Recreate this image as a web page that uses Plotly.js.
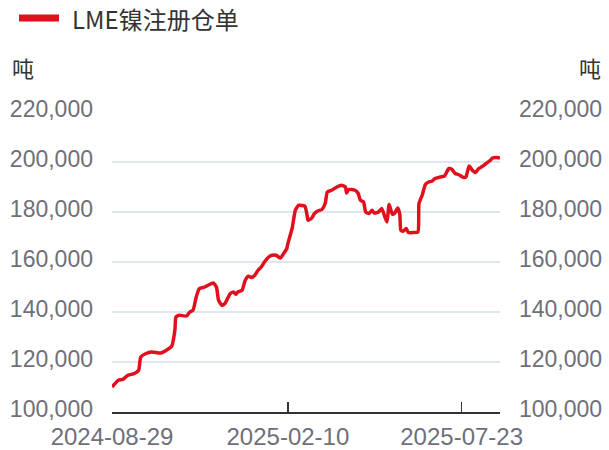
<!DOCTYPE html>
<html>
<head>
<meta charset="utf-8">
<script src="https://cdn.plot.ly/plotly-3.0.1.min.js"></script>
<style>html,body{margin:0;padding:0;background:#fff;}#chart{width:609px;height:450px;}</style>
</head>
<body>
<div id="chart"></div>
<script>
const seriesName = "LME镍注册仓单";
const unitLabel = "吨";
const dates = [
"2024-08-29","2024-09-04","2024-09-08","2024-09-13","2024-09-19","2024-09-23","2024-09-25","2024-09-30",
"2024-10-05","2024-10-14","2024-10-19","2024-10-24","2024-10-27","2024-10-28","2024-10-31","2024-11-07",
"2024-11-10","2024-11-13","2024-11-16","2024-11-19","2024-11-24","2024-11-27","2024-12-02","2024-12-05",
"2024-12-07","2024-12-10","2024-12-13","2024-12-18","2024-12-21","2024-12-23","2024-12-25","2024-12-29",
"2025-01-01","2025-01-04","2025-01-07","2025-01-10","2025-01-13","2025-01-16","2025-01-19","2025-01-23",
"2025-01-26","2025-01-30","2025-02-03","2025-02-06","2025-02-09","2025-02-10","2025-02-14","2025-02-17",
"2025-02-20","2025-02-21","2025-02-26","2025-02-28","2025-03-01","2025-03-04","2025-03-07","2025-03-10",
"2025-03-14","2025-03-17","2025-03-19","2025-03-23","2025-03-28","2025-04-01","2025-04-05","2025-04-06",
"2025-04-08","2025-04-14","2025-04-17","2025-04-19","2025-04-22","2025-04-24","2025-04-27","2025-04-30",
"2025-05-02","2025-05-06","2025-05-09","2025-05-12","2025-05-14","2025-05-16","2025-05-19","2025-05-21",
"2025-05-24","2025-05-26","2025-05-27","2025-05-29","2025-06-01","2025-06-03","2025-06-08","2025-06-12",
"2025-06-13","2025-06-16","2025-06-19","2025-06-22","2025-06-25","2025-06-28","2025-07-03","2025-07-07",
"2025-07-11","2025-07-14","2025-07-17","2025-07-20","2025-07-25","2025-07-27","2025-07-30","2025-08-02",
"2025-08-05","2025-08-08","2025-08-12","2025-08-15","2025-08-19","2025-08-21","2025-08-25","2025-08-28"
];
const stocks = [
110000,112700,113000,114700,115400,116700,122000,123400,
124000,123600,124700,126300,132700,138000,138700,138400,
140000,140700,146000,149400,150000,150700,151600,149900,
144700,142700,143400,147400,148000,147100,148000,148700,
152700,154300,153800,154700,156700,158000,160000,162000,
162700,162700,161600,163400,165400,167400,173500,180700,
182700,182700,182300,178700,176700,177400,179400,180400,
181000,183400,188000,188700,190000,190700,190000,187600,
189000,188700,187400,184700,184000,180000,179400,180700,
179600,180000,181400,178000,176000,183000,179100,179400,
181600,179100,172700,172300,173400,171800,171800,172000,
183400,186700,191000,192000,192300,193400,194000,194400,
197400,197000,195400,195000,193800,194000,198400,196700,
195800,197400,198400,199400,200700,201600,201800,201600
];
const xTickVals = ["2024-08-29","2025-02-10","2025-07-23","2025-08-28"];
const xTickText = ["2024-08-29","2025-02-10","2025-07-23",""];
const yTickVals = [100000,120000,140000,160000,180000,200000,220000];

const lineColor = "#E0101C";
const fam = "Noto Sans CJK SC, Noto Sans, sans-serif";
const numFam = "Liberation Sans, Arial, sans-serif";
const yLabelFont = {family: numFam, size: 23, color: "#6E7079"};
const xLabelFont = {family: numFam, size: 24, color: "#6E7079"};
const textFont = {family: fam, size: 24, color: "#333"};

const trace = {
  x: dates, y: stocks, type: "scatter", mode: "lines", name: seriesName,
  line: {color: lineColor, width: 3.5, shape: "spline", smoothing: 0.5},
  hoverinfo: "skip", showlegend: false
};
// same series bound to the right-hand axis so that axis is drawn (fully transparent)
const traceRight = {
  x: dates, y: stocks, type: "scatter", mode: "lines", yaxis: "y2",
  line: {color: "rgba(0,0,0,0)", width: 0}, opacity: 0, hoverinfo: "skip", showlegend: false
};
const layout = {
  width: 609, height: 450,
  margin: {l: 112, r: 109, t: 112, b: 38},
  paper_bgcolor: "#fff", plot_bgcolor: "#fff",
  font: textFont,
  showlegend: false,
  xaxis: {
    type: "date", range: ["2024-08-29", "2025-08-28"],
    tickmode: "array", tickvals: xTickVals, ticktext: xTickText,
    ticks: "inside", ticklen: 10, tickcolor: "#333", tickwidth: 1.5,
    showline: true, linecolor: "#333", linewidth: 1.5,
    showgrid: false, zeroline: false, tickfont: xLabelFont, ticklabelstandoff: 3
  },
  yaxis: {
    range: [100000, 220000], tickmode: "array", tickvals: yTickVals, tickformat: ",d",
    showgrid: true, gridcolor: "#E0E6F1", gridwidth: 1.2, zeroline: false, showline: false,
    ticks: "", tickfont: yLabelFont, ticklabelstandoff: 18, ticklabelshift: -3
  },
  yaxis2: {
    overlaying: "y", side: "right", range: [100000, 220000], tickmode: "array", tickvals: yTickVals, tickformat: ",d",
    showgrid: false, zeroline: false, showline: false, ticks: "", tickfont: yLabelFont, ticklabelstandoff: 18, ticklabelshift: -3
  },
  shapes: [
    {type: "line", xref: "paper", yref: "paper", x0: (19 - 112) / 388, x1: (59 - 112) / 388,
     y0: (412 - 18) / 300, y1: (412 - 18) / 300, line: {color: lineColor, width: 7}}
  ],
  annotations: [
    {text: seriesName, xref: "paper", yref: "paper", x: 0, y: 1, xshift: -42, yshift: 94, xanchor: "left", yanchor: "middle",
     showarrow: false, font: textFont},
    {text: unitLabel, xref: "paper", yref: "paper", x: 0, y: 1, xshift: -102, yshift: 45, xanchor: "left", yanchor: "middle",
     showarrow: false, font: {family: fam, size: 22, color: "#333"}},
    {text: unitLabel, xref: "paper", yref: "paper", x: 1, y: 1, xshift: 103, yshift: 45, xanchor: "right", yanchor: "middle",
     showarrow: false, font: {family: fam, size: 22, color: "#333"}}
  ]
};
Plotly.newPlot("chart", [trace, traceRight], layout, {staticPlot: true, displayModeBar: false});
</script>
</body>
</html>
